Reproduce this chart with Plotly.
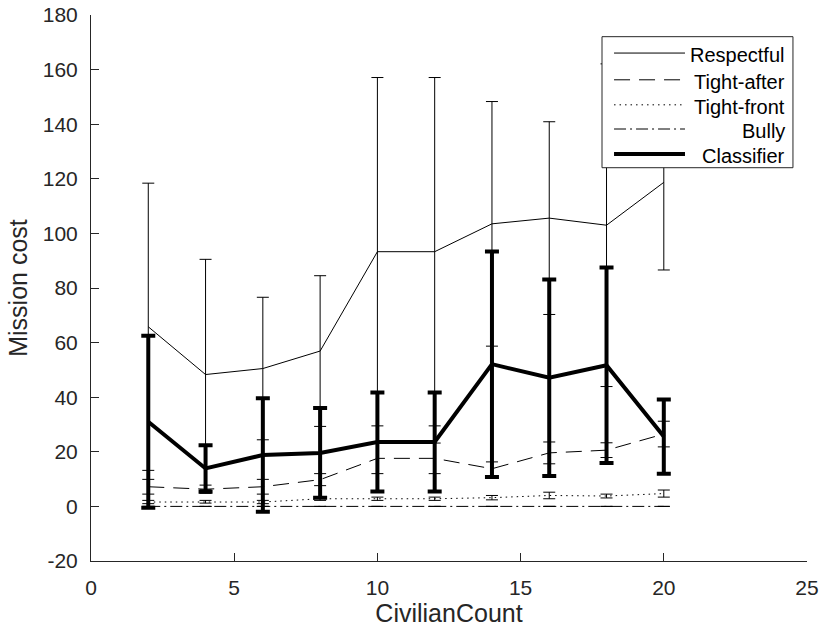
import plotly.graph_objects as go

# Civilian counts on the x axis
civilian_count = [2, 4, 6, 8, 10, 12, 14, 16, 18, 20]

# Mean mission cost and its spread for each strategy
respectful = [65.8, 48.3, 50.5, 56.9, 93.3, 93.3, 103.5, 105.6, 103.0, 118.7]
respectful_err = [52.6, 42.2, 26.1, 27.6, 63.8, 63.8, 44.8, 35.3, 59.1, 32.1]

tight_after = [7.2, 6.3, 7.2, 9.8, 17.6, 17.6, 13.8, 19.6, 20.6, 26.5]
tight_after_err = [2.7, 1.5, 2.7, 2.2, 5.6, 5.6, 2.5, 4.0, 2.7, 4.7]

tight_front = [1.6, 1.7, 1.6, 2.8, 2.8, 2.8, 3.2, 4.0, 3.8, 4.7]
tight_front_err = [0.6, 0.5, 0.6, 0.6, 0.6, 0.6, 0.8, 1.2, 0.7, 1.3]

bully = [0, 0, 0, 0, 0, 0, 0, 0, 0, 0]
bully_err = [0, 0, 0, 0, 0, 0, 0, 0, 0, 0]

classifier = [31.0, 13.9, 18.8, 19.6, 23.6, 23.6, 52.1, 47.1, 51.7, 25.6]
classifier_err = [31.5, 8.5, 20.8, 16.4, 18.1, 18.1, 41.3, 36.0, 35.8, 13.6]

series_names = ["Respectful", "Tight-after", "Tight-front", "Bully", "Classifier"]
series_values = [respectful, tight_after, tight_front, bully, classifier]
series_errors = [respectful_err, tight_after_err, tight_front_err, bully_err, classifier_err]

# Line styles per series: dash pattern, line width, error-bar thickness, cap half-width
dash_styles = ["solid", "16px,9px", "1.5px,4px", "12px,4px,2px,4px", "solid"]
line_widths = [1, 1, 1, 1, 4]
err_thickness = [1, 1, 1, 1, 4]
cap_widths = [6, 6, 6, 6, 7]

x_ticks = [0, 5, 10, 15, 20, 25]
y_ticks = [-20, 0, 20, 40, 60, 80, 100, 120, 140, 160, 180]
y_tick_text = ["-20", "0", "20", "40", "60", "80", "100", "120", "140", "160", "180"]

FONT = "Liberation Sans, Arial, Helvetica, sans-serif"
AXIS_COLOR = "#262626"

fig = go.Figure()
for name, vals, errs, dash, lw, et, cw in zip(series_names, series_values, series_errors,
                                               dash_styles, line_widths, err_thickness, cap_widths):
    fig.add_trace(go.Scatter(
        x=civilian_count, y=vals, name=name, mode="lines",
        line=dict(color="black", width=lw, dash=dash),
        error_y=dict(type="data", array=errs, symmetric=True, visible=True,
                     color="black", thickness=et, width=cw),
        showlegend=False,
    ))

# Boxed legend in the upper right corner, drawn on top of the data
box_x0, box_x1 = 0.7137, 0.9804
box_y0, box_y1 = 0.7203, 0.9603
shapes = [dict(type="rect", xref="paper", yref="paper", x0=box_x0, x1=box_x1,
               y0=box_y0, y1=box_y1, fillcolor="white",
               line=dict(color=AXIS_COLOR, width=1), layer="above")]
annotations = []
row_y = [0.9303, 0.8813, 0.8355, 0.7912, 0.7454]
sample_x0, sample_x1 = 0.7305, 0.8296
text_x = 0.9721
for name, dash, lw, yy in zip(series_names, dash_styles, line_widths, row_y):
    shapes.append(dict(type="line", xref="paper", yref="paper",
                       x0=sample_x0, x1=sample_x1, y0=yy, y1=yy,
                       line=dict(color="black", width=lw, dash=dash), layer="above"))
    annotations.append(dict(xref="paper", yref="paper", x=text_x, y=yy, text=name,
                            showarrow=False, xanchor="right", yanchor="middle", yshift=-2,
                            font=dict(family=FONT, size=20, color="black")))

fig.update_layout(
    width=832, height=634,
    margin=dict(l=91, r=25, t=15, b=73),
    paper_bgcolor="white", plot_bgcolor="white",
    font=dict(family=FONT, color=AXIS_COLOR),
    shapes=shapes, annotations=annotations,
    showlegend=False,
)
fig.update_xaxes(
    range=[0, 25], tickvals=x_ticks, showgrid=False, zeroline=False, automargin=False,
    showline=True, linecolor=AXIS_COLOR, linewidth=1, mirror=False,
    ticks="inside", ticklen=8, tickcolor=AXIS_COLOR, tickwidth=1,
    tickfont=dict(size=21, color=AXIS_COLOR), ticklabelstandoff=8,
    title=dict(text="CivilianCount", font=dict(size=25, color=AXIS_COLOR), standoff=1),
)
fig.update_yaxes(
    range=[-20, 180], tickvals=y_ticks, ticktext=y_tick_text,
    showgrid=False, zeroline=False, automargin=False,
    showline=True, linecolor=AXIS_COLOR, linewidth=1, mirror=False,
    ticks="inside", ticklen=8, tickcolor=AXIS_COLOR, tickwidth=1,
    tickfont=dict(size=21, color=AXIS_COLOR), ticklabelstandoff=8,
    title=dict(text="Mission cost", font=dict(size=25, color=AXIS_COLOR), standoff=8),
)

fig.write_html("out.html")
